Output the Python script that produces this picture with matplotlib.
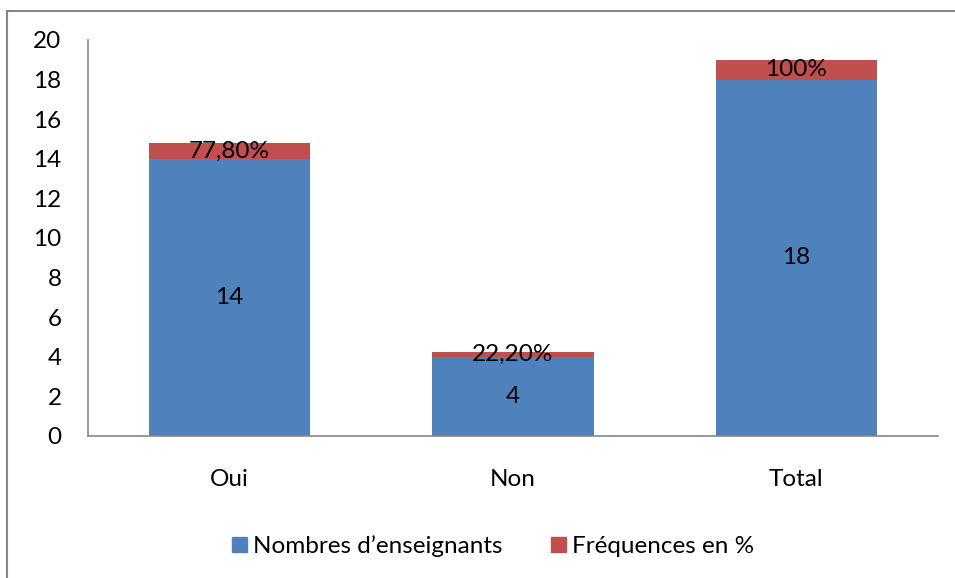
import matplotlib
matplotlib.use('Agg')
from matplotlib import pyplot as plt
from matplotlib.lines import Line2D
from matplotlib.patches import Patch

# Chart data.
categories = ['Oui', 'Non', 'Total']
teachers = [14, 4, 18]
frequencies = [0.778, 0.222, 1.0]
teacher_labels = ['14', '4', '18']
freq_labels = ['77,80%', '22,20%', '100%']

plt.rcParams['font.family'] = ['Lato', 'DejaVu Sans']

blue = '#4F81BD'
red = '#C0504D'
grey = '#868686'
fs = 17.5

fig = plt.figure(figsize=(9.55, 5.78), dpi=100)
ax = fig.add_axes([88 / 955, 1 - 436 / 578, 850 / 955, 396 / 578])

x = range(len(categories))
b1 = ax.bar(x, teachers, width=0.57, color=blue)
b2 = ax.bar(x, frequencies, width=0.57, bottom=teachers, color=red)

ax.bar_label(b1, labels=teacher_labels, label_type='center', fontsize=fs)
ax.bar_label(b2, labels=freq_labels, label_type='center', fontsize=fs)

# Format axes.
ax.set_xlim(-0.5, 2.5)
ax.set_ylim(0, 20)
ax.set_yticks(range(0, 21, 2))
ax.set_xticks(list(x))
ax.set_xticklabels(categories)
ax.tick_params(axis='both', length=0, labelsize=fs)
ax.tick_params(axis='x', pad=24)
ax.tick_params(axis='y', pad=19)
for side in ['top', 'right']:
    ax.spines[side].set_visible(False)
for side in ['left', 'bottom']:
    ax.spines[side].set_color(grey)
    ax.spines[side].set_linewidth(1.2)

handles = [Patch(color=blue), Patch(color=red)]
fig.legend(handles, ['Nombres d\u2019enseignants', 'Fréquences en %'],
           loc='center', bbox_to_anchor=(493 / 955, 1 - 546 / 578),
           ncol=2, frameon=False, fontsize=fs, handlelength=0.6,
           handleheight=0.6, handletextpad=0.25, columnspacing=2.0)

# Chart frame (top and left edges visible).
fig.add_artist(Line2D([7 / 955, 1], [1 - 11 / 578] * 2, color=grey, lw=1.5))
fig.add_artist(Line2D([7 / 955] * 2, [0, 1 - 11 / 578], color=grey, lw=1.5))

fig.savefig('out.png', dpi=100)
